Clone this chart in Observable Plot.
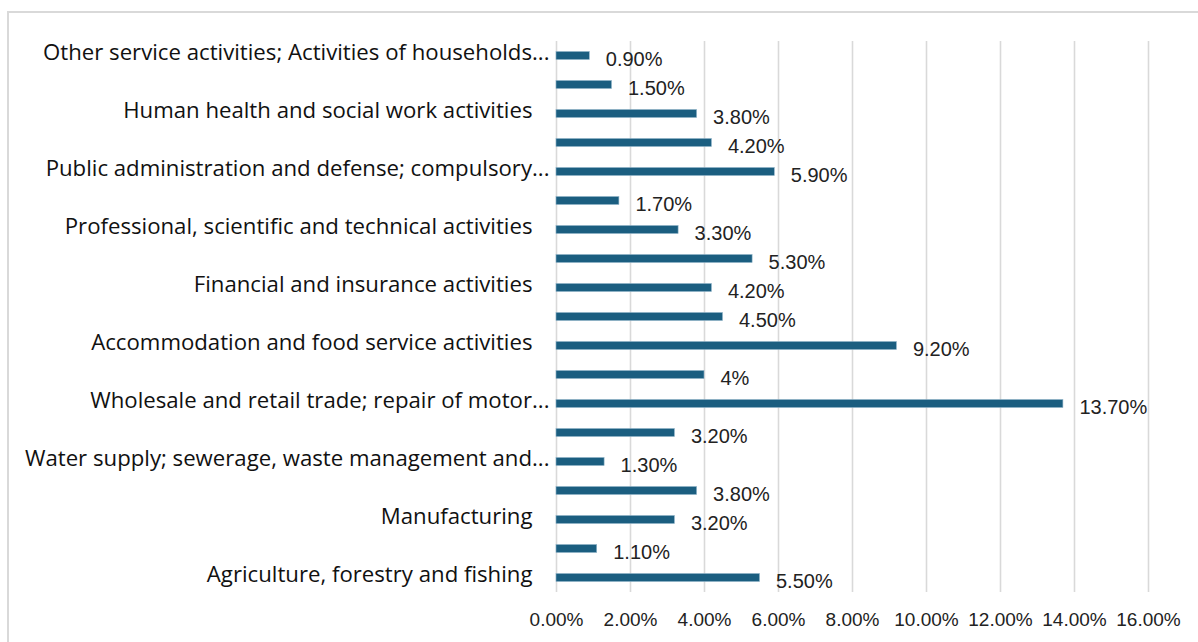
<!DOCTYPE html>
<html>
<head>
<meta charset="utf-8">
<script src="https://cdn.jsdelivr.net/npm/d3@7"></script>
<script src="https://cdn.jsdelivr.net/npm/@observablehq/plot@0.6"></script>
<style>
  html, body { margin: 0; padding: 0; background: #fff; }
  #wrap { position: relative; width: 1198px; height: 642px; overflow: hidden; }
  #frame { position: absolute; left: 7px; top: 11px; width: 1200px; height: 640px; border: 2px solid #d9d9d9; box-sizing: border-box; }
  #chart { position: absolute; left: 0; top: 0; }
</style>
</head>
<body>
<div id="wrap"><div id="frame"></div><div id="chart"></div></div>
<script>
// Categories listed top to bottom
const categories = [
  "Other service activities; Activities of households as employers",
  "Arts, entertainment and recreation",
  "Human health and social work activities",
  "Education",
  "Public administration and defense; compulsory social security",
  "Administrative and support service activities",
  "Professional, scientific and technical activities",
  "Real estate activities",
  "Financial and insurance activities",
  "Information and communication",
  "Accommodation and food service activities",
  "Transportation and storage",
  "Wholesale and retail trade; repair of motor vehicles and motorcycles",
  "Construction",
  "Water supply; sewerage, waste management and remediation activities",
  "Electricity, gas, steam and air conditioning supply",
  "Manufacturing",
  "Mining and quarrying",
  "Agriculture, forestry and fishing"
];
// Labels as displayed on the axis ("" = hidden by the chart)
const shownLabels = [
  "Other service activities; Activities of households...",
  "",
  "Human health and social work activities",
  "",
  "Public administration and defense; compulsory...",
  "",
  "Professional, scientific and technical activities",
  "",
  "Financial and insurance activities",
  "",
  "Accommodation and food service activities",
  "",
  "Wholesale and retail trade; repair of motor...",
  "",
  "Water supply; sewerage, waste management and...",
  "",
  "Manufacturing",
  "",
  "Agriculture, forestry and fishing"
];
// Values in percent
const values = [0.9, 1.5, 3.8, 4.2, 5.9, 1.7, 3.3, 5.3, 4.2, 4.5, 9.2, 4, 13.7, 3.2, 1.3, 3.8, 3.2, 1.1, 5.5];
const valueLabels = ["0.90%", "1.50%", "3.80%", "4.20%", "5.90%", "1.70%", "3.30%", "5.30%", "4.20%", "4.50%", "9.20%", "4%", "13.70%", "3.20%", "1.30%", "3.80%", "3.20%", "1.10%", "5.50%"];
const xTicks = [0, 2, 4, 6, 8, 10, 12, 14, 16];

const data = categories.map((c, i) => ({cat: c, value: values[i], label: valueLabels[i], shown: shownLabels[i]}));
const truncated = data.filter(d => d.shown.endsWith("..."));
const plain = data.filter(d => d.shown && !d.shown.endsWith("..."));

const chart = Plot.plot({
  width: 1198,
  height: 642,
  marginLeft: 556,
  marginRight: 50,
  marginTop: 41,
  marginBottom: 50,
  style: {fontFamily: "'Liberation Sans', Arial, sans-serif", fontSize: "19px", color: "#222", background: "transparent"},
  x: {domain: [0, 16], label: null},
  y: {domain: categories, padding: 0, axis: null},
  marks: [
    Plot.gridX(xTicks, {stroke: "#d9d9d9", strokeOpacity: 1, strokeWidth: 1.6}),
    Plot.axisX(xTicks, {tickSize: 0, tickPadding: 20, tickFormat: d => d.toFixed(2) + "%", label: null, fill: "#222"}),
    Plot.barX(data, {x: "value", y: "cat", fill: "#1b5e80", stroke: "#8fb3c8", strokeWidth: 0.6, insetTop: 10.5, insetBottom: 10.5}),
    Plot.text(data, {x: "value", y: "cat", text: "label", textAnchor: "start", dx: 16, dy: 4, fill: "#222", fontSize: 20}),
    Plot.text(plain, {x: 0, y: "cat", text: "shown", textAnchor: "end", dx: -24, dy: -3, fill: "#111", fontSize: 22.2, fontFamily: "'Open Sans', sans-serif"}),
    Plot.text(truncated, {x: 0, y: "cat", text: "shown", textAnchor: "end", dx: -7, dy: -3, fill: "#111", fontSize: 22.2, fontFamily: "'Open Sans', sans-serif"})
  ]
});
document.getElementById("chart").appendChild(chart);
</script>
</body>
</html>
